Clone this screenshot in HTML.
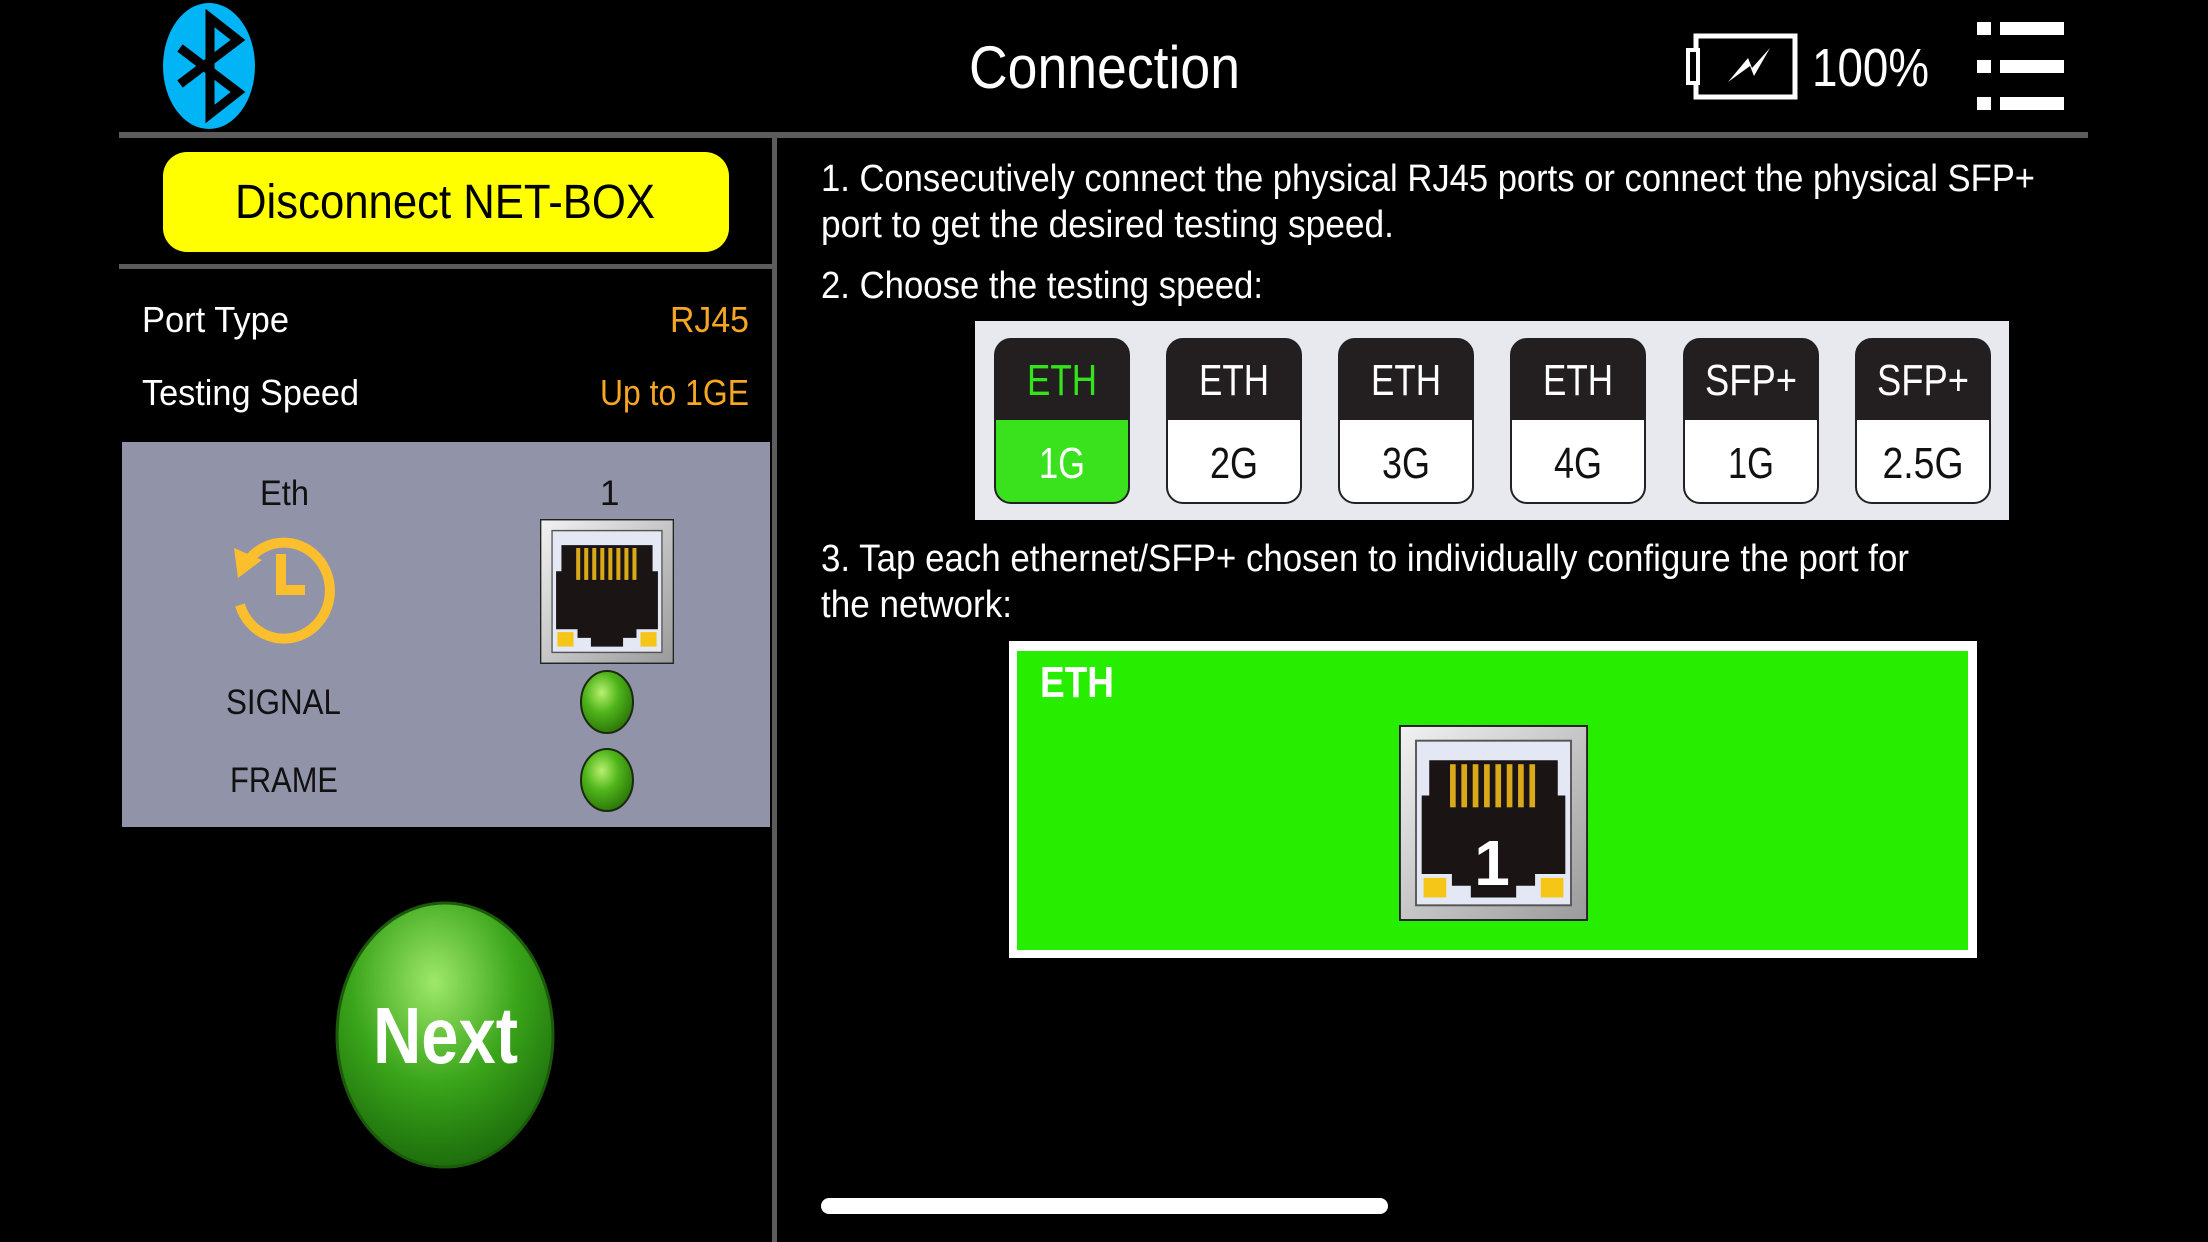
<!DOCTYPE html>
<html><head><meta charset="utf-8"><style>html,body{margin:0;padding:0;background:#000;width:2208px;height:1242px;overflow:hidden}svg{display:block}</style></head><body>
<svg width="2208" height="1242" viewBox="0 0 2208 1242" xmlns="http://www.w3.org/2000/svg" font-family="Liberation Sans, sans-serif">
<defs>
<radialGradient id="led" cx="40%" cy="35%" r="65%"><stop offset="0" stop-color="#b8f070"/><stop offset="0.5" stop-color="#4fb51a"/><stop offset="1" stop-color="#2e7a0a"/></radialGradient>
<radialGradient id="nx" cx="45%" cy="30%" r="70%"><stop offset="0" stop-color="#9fe86a"/><stop offset="0.55" stop-color="#3aa51a"/><stop offset="1" stop-color="#1d6e0c"/></radialGradient>
<linearGradient id="bev" x1="0" y1="0" x2="1" y2="1"><stop offset="0" stop-color="#f2f2f2"/><stop offset="1" stop-color="#9a9a9a"/></linearGradient>
<symbol id="rj" viewBox="0 0 100 100" preserveAspectRatio="none">
<rect x="0.5" y="0.5" width="99" height="99" fill="url(#bev)" stroke="#222" stroke-width="1"/>
<rect x="9" y="8" width="82" height="84" fill="#e4e8f4" stroke="#555" stroke-width="1"/>
<polygon points="16,18 84,18 84,36 88,36 88,76 72,76 72,82 62,82 62,88 38,88 38,82 28,82 28,76 12,76 12,36 16,36" fill="#1a1414"/>
<g fill="#d9a91a"><rect x="27" y="20" width="3" height="22"/><rect x="33" y="20" width="3" height="22"/><rect x="39" y="20" width="3" height="22"/><rect x="45" y="20" width="3" height="22"/><rect x="51" y="20" width="3" height="22"/><rect x="57" y="20" width="3" height="22"/><rect x="63" y="20" width="3" height="22"/><rect x="69" y="20" width="3" height="22"/></g>
<rect x="13" y="78" width="12" height="10" fill="#f5c518"/><rect x="75" y="78" width="12" height="10" fill="#f5c518"/>
</symbol>
</defs>
<rect width="2208" height="1242" fill="#000"/>
<ellipse cx="209" cy="66" rx="46" ry="63" fill="#00b4f5"/>
<polyline points="180,48 238,92 210,114 210,18 238,40 180,84" fill="none" stroke="#000" stroke-width="9" stroke-linejoin="miter"/>
<text x="969" y="88" font-size="60" fill="#fff" textLength="271" lengthAdjust="spacingAndGlyphs">Connection</text>
<rect x="1696" y="36" width="99" height="61" fill="none" stroke="#fff" stroke-width="5"/>
<rect x="1688" y="50" width="10" height="33" fill="#000" stroke="#fff" stroke-width="4"/>
<polygon points="1728,82 1748,58 1752,68 1770,48 1754,76 1750,66" fill="#fff"/>
<text x="1812" y="86" font-size="54" fill="#fff" textLength="117" lengthAdjust="spacingAndGlyphs">100%</text>
<g fill="#fff"><rect x="1977" y="22" width="14" height="13"/><rect x="2000" y="22" width="64" height="13"/><rect x="1977" y="60" width="14" height="13"/><rect x="2000" y="60" width="64" height="13"/><rect x="1977" y="97" width="14" height="13"/><rect x="2000" y="97" width="64" height="13"/></g>
<rect x="119" y="132" width="1969" height="6" fill="#5c5c5c"/>
<rect x="772" y="138" width="5" height="1104" fill="#5c5c5c"/>
<rect x="163" y="152" width="566" height="100" rx="24" fill="#ffff00"/>
<text x="235" y="218" font-size="48" fill="#000" textLength="420" lengthAdjust="spacingAndGlyphs">Disconnect NET-BOX</text>
<rect x="119" y="264" width="653" height="5" fill="#5c5c5c"/>
<text x="142" y="332" font-size="36" fill="#fff" textLength="147" lengthAdjust="spacingAndGlyphs">Port Type</text>
<text x="670" y="332" font-size="36" fill="#f5a623" textLength="79" lengthAdjust="spacingAndGlyphs">RJ45</text>
<text x="142" y="405" font-size="36" fill="#fff" textLength="217" lengthAdjust="spacingAndGlyphs">Testing Speed</text>
<text x="600" y="405" font-size="36" fill="#f5a623" textLength="149" lengthAdjust="spacingAndGlyphs">Up to 1GE</text>
<rect x="122" y="442" width="648" height="385" fill="#9193a9"/>
<text x="260" y="505" font-size="35" fill="#111" textLength="49" lengthAdjust="spacingAndGlyphs">Eth</text>
<text x="600" y="505" font-size="35" fill="#111">1</text>
<path d="M 245 565 A 46 48 0 1 1 240 605" fill="none" stroke="#fbbf2e" stroke-width="10"/>
<polygon points="234,548 262,560 238,578" fill="#fbbf2e"/>
<polyline points="281,554 281,590 305,590" fill="none" stroke="#fbbf2e" stroke-width="10"/>
<use href="#rj" x="540" y="519" width="134" height="145"/>
<text x="226" y="714" font-size="35" fill="#111" textLength="115" lengthAdjust="spacingAndGlyphs">SIGNAL</text>
<text x="230" y="792" font-size="35" fill="#111" textLength="108" lengthAdjust="spacingAndGlyphs">FRAME</text>
<ellipse cx="607" cy="702" rx="26" ry="31" fill="url(#led)" stroke="#1a2a10" stroke-width="2"/>
<ellipse cx="607" cy="780" rx="26" ry="31" fill="url(#led)" stroke="#1a2a10" stroke-width="2"/>
<ellipse cx="445" cy="1035" rx="108" ry="132" fill="url(#nx)" stroke="#1a5a0a" stroke-width="3"/>
<text x="373" y="1063" font-size="80" font-weight="bold" fill="#fff" textLength="145" lengthAdjust="spacingAndGlyphs">Next</text>
<g font-size="38" fill="#fff">
<text x="821" y="191" textLength="1214" lengthAdjust="spacingAndGlyphs">1. Consecutively connect the physical RJ45 ports or connect the physical SFP+</text>
<text x="821" y="237" textLength="573" lengthAdjust="spacingAndGlyphs">port to get the desired testing speed.</text>
<text x="821" y="298" textLength="442" lengthAdjust="spacingAndGlyphs">2. Choose the testing speed:</text>
<text x="821" y="571" textLength="1088" lengthAdjust="spacingAndGlyphs">3. Tap each ethernet/SFP+ chosen to individually configure the port for</text>
<text x="821" y="617" textLength="191" lengthAdjust="spacingAndGlyphs">the network:</text>
</g>
<rect x="975" y="321" width="1034" height="199" fill="#e8e9ee"/>
<g font-size="44" text-anchor="middle">
<g>
<rect x="995" y="339" width="134" height="164" rx="16" fill="#39e21c" stroke="#222" stroke-width="2"/>
<path d="M995,420 V355 a16,16 0 0 1 16,-16 H1113 a16,16 0 0 1 16,16 V420 Z" fill="#231f20"/>
<text x="1062" y="395" fill="#33e41a" textLength="70" lengthAdjust="spacingAndGlyphs">ETH</text>
<text x="1062" y="478" fill="#fff" textLength="46" lengthAdjust="spacingAndGlyphs">1G</text>
</g>
<g>
<rect x="1167" y="339" width="134" height="164" rx="16" fill="#fff" stroke="#222" stroke-width="2"/>
<path d="M1167,420 V355 a16,16 0 0 1 16,-16 H1285 a16,16 0 0 1 16,16 V420 Z" fill="#231f20"/>
<text x="1234" y="395" fill="#fff" textLength="70" lengthAdjust="spacingAndGlyphs">ETH</text>
<text x="1234" y="478" fill="#111" textLength="48" lengthAdjust="spacingAndGlyphs">2G</text>
</g>
<g>
<rect x="1339" y="339" width="134" height="164" rx="16" fill="#fff" stroke="#222" stroke-width="2"/>
<path d="M1339,420 V355 a16,16 0 0 1 16,-16 H1457 a16,16 0 0 1 16,16 V420 Z" fill="#231f20"/>
<text x="1406" y="395" fill="#fff" textLength="70" lengthAdjust="spacingAndGlyphs">ETH</text>
<text x="1406" y="478" fill="#111" textLength="48" lengthAdjust="spacingAndGlyphs">3G</text>
</g>
<g>
<rect x="1511" y="339" width="134" height="164" rx="16" fill="#fff" stroke="#222" stroke-width="2"/>
<path d="M1511,420 V355 a16,16 0 0 1 16,-16 H1629 a16,16 0 0 1 16,16 V420 Z" fill="#231f20"/>
<text x="1578" y="395" fill="#fff" textLength="70" lengthAdjust="spacingAndGlyphs">ETH</text>
<text x="1578" y="478" fill="#111" textLength="48" lengthAdjust="spacingAndGlyphs">4G</text>
</g>
<g>
<rect x="1684" y="339" width="134" height="164" rx="16" fill="#fff" stroke="#222" stroke-width="2"/>
<path d="M1684,420 V355 a16,16 0 0 1 16,-16 H1802 a16,16 0 0 1 16,16 V420 Z" fill="#231f20"/>
<text x="1751" y="395" fill="#fff" textLength="92" lengthAdjust="spacingAndGlyphs">SFP+</text>
<text x="1751" y="478" fill="#111" textLength="46" lengthAdjust="spacingAndGlyphs">1G</text>
</g>
<g>
<rect x="1856" y="339" width="134" height="164" rx="16" fill="#fff" stroke="#222" stroke-width="2"/>
<path d="M1856,420 V355 a16,16 0 0 1 16,-16 H1974 a16,16 0 0 1 16,16 V420 Z" fill="#231f20"/>
<text x="1923" y="395" fill="#fff" textLength="92" lengthAdjust="spacingAndGlyphs">SFP+</text>
<text x="1923" y="478" fill="#111" textLength="81" lengthAdjust="spacingAndGlyphs">2.5G</text>
</g>
</g>
<rect x="1009" y="641" width="968" height="317" fill="#fff"/>
<rect x="1017" y="651" width="951" height="299" fill="#27ee00"/>
<text x="1040" y="697" font-size="44" font-weight="bold" fill="#fff" textLength="74" lengthAdjust="spacingAndGlyphs">ETH</text>
<use href="#rj" x="1399" y="725" width="189" height="196"/>
<text x="1492" y="885" font-size="64" font-weight="bold" fill="#fff" text-anchor="middle">1</text>
<rect x="821" y="1198" width="567" height="16" rx="8" fill="#fff"/>
</svg>
</body></html>
